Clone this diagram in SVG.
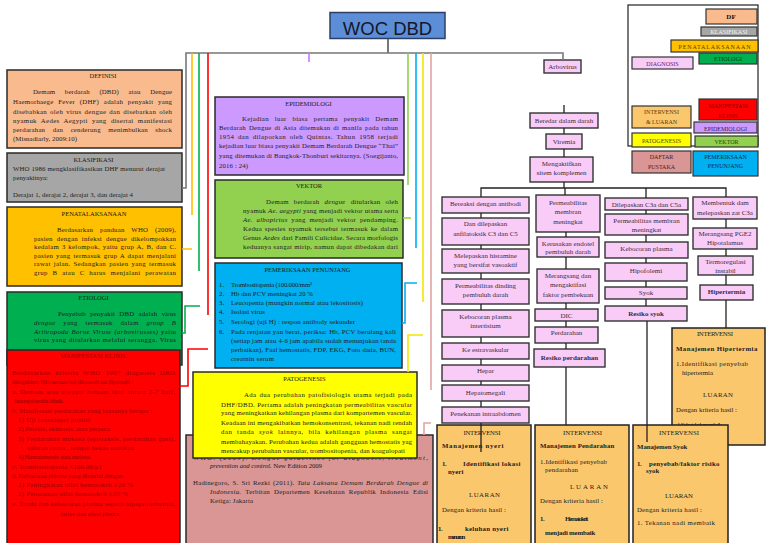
<svg xmlns="http://www.w3.org/2000/svg" width="768" height="543" viewBox="0 0 768 543">
<style>
text{font-family:"Liberation Serif","Times New Roman",serif;font-size:6.8px;fill:#222}
.ti{font-size:6.5px;text-anchor:middle;fill:#1a1a1a}
.c{text-anchor:middle}
.b{font-weight:bold}
.i{font-style:italic}
.bx{stroke:#2a2a2a;stroke-width:1.5}
.pk{fill:#f9cbf7;stroke:#333;stroke-width:1.4}
.pt{font-size:7px;text-anchor:middle;fill:#3b2b3b}
.iv{fill:#fbc76c;stroke:#222;stroke-width:1.5}
.lg{stroke:#333;stroke-width:1.2}
.lt{font-size:6px;text-anchor:middle;fill:#3a3a3a}
.k{fill:none;stroke:#222;stroke-width:1.3}
.iw{font-weight:bold;letter-spacing:-0.3px}
.mk{fill:#9e0000}
</style>
<rect width="768" height="543" fill="#fff"/>

<g id="title">
<rect x="330" y="12.5" width="115" height="26" fill="#5b8ed6" stroke="#2b3f66" stroke-width="1.5"/>
<text x="387.5" y="35" style="font-family:'Liberation Sans',Arial,sans-serif;font-size:18.5px;fill:#16162a;text-anchor:middle">WOC DBD</text>
</g>

<g id="definisi">
<rect class="bx" x="7" y="70" width="175" height="78" fill="#f9ba8e"/>
<text class="ti" x="103" y="77.5">DEFINISI</text>
<text x="33" y="94.2" textLength="139" lengthAdjust="spacing" style="word-spacing:7.8px">Demam berdarah (DBD) atau Dengue</text>
<text x="13" y="104" textLength="159" lengthAdjust="spacing" style="word-spacing:2.8px">Haemorhaege Fever (DHF) adalah penyakit yang</text>
<text x="13" y="113.5" textLength="159" lengthAdjust="spacing" style="word-spacing:1px">disebabkan oleh virus dengue dan disebarkan oleh</text>
<text x="13" y="122.5" textLength="159" lengthAdjust="spacing" style="word-spacing:2.4px">nyamuk Aedes Aegypti yang disertai manifestasi</text>
<text x="13" y="131.5" textLength="159" lengthAdjust="spacing" style="word-spacing:5.6px">perdarahan dan cenderung menimbulkan shock</text>
<text x="13" y="140.8" textLength="64" lengthAdjust="spacing">(Misnadiarly, 2009:10)</text>
</g>

<g id="klasifikasi">
<rect class="bx" x="7" y="153" width="175" height="49" fill="#a6a6a6"/>
<text class="ti" x="93.5" y="161.5">KLASIFIKASI</text>
<text x="13" y="170.8" textLength="152" lengthAdjust="spacing">WHO 1986 mengklasifikasikan DHF menurut derajat</text>
<text x="13" y="179.5" textLength="35" lengthAdjust="spacing">penyakitnya:</text>
<text x="13" y="196.5" textLength="120" lengthAdjust="spacing">Derajat 1, derajat 2, derajat 3, dan derajat 4</text>
</g>

<g id="penatalaksanaan">
<rect class="bx" x="7" y="207" width="175" height="79" fill="#ffc000"/>
<text class="ti" x="94" y="215.5">PENATALAKSANAAN</text>
<text x="57" y="231.8" textLength="119" lengthAdjust="spacing" style="word-spacing:5px">Berdasarkan panduan WHO (2009),</text>
<text x="34" y="240.5" textLength="142" lengthAdjust="spacing" style="word-spacing:2.2px">pasien dengan infeksi dengue dikelompokkan</text>
<text x="34" y="249" textLength="142" lengthAdjust="spacing" style="word-spacing:0.7px">kedalam 3 kelompok, yaitu grup A, B, dan C.</text>
<text x="34" y="257.6" textLength="142" lengthAdjust="spacing" style="word-spacing:0.9px">pasien yang termasuk grup A dapat menjalani</text>
<text x="34" y="266.3" textLength="142" lengthAdjust="spacing" style="word-spacing:1.1px">rawat jalan. Sedangkan pasien yang termasuk</text>
<text x="34" y="275" textLength="142" lengthAdjust="spacing" style="word-spacing:2.7px">grup B atau C harus menjalani perawatan</text>
</g>

<g id="etiologi">
<rect class="bx" x="7" y="292" width="175" height="73" fill="#00b050"/>
<text class="ti" x="93.5" y="300.3">ETIOLOGI</text>
<text x="58" y="315.8" textLength="118" lengthAdjust="spacing" style="word-spacing:2.4px">Penyebab penyakit DBD adalah virus</text>
<text x="34" y="325" textLength="142" lengthAdjust="spacing" style="word-spacing:5.8px"><tspan class="i">dengue</tspan> yang termasuk dalam <tspan class="i">group B</tspan></text>
<text x="34" y="333.5" textLength="142" lengthAdjust="spacing" style="word-spacing:0.8px"><tspan class="i">Arthropoda Borne Viruse (arbovirusses)</tspan> yaitu</text>
<text x="34" y="342" textLength="142" lengthAdjust="spacing">virus yang ditularkan melalui serangga. Virus</text>
</g>

<g id="manifestasi">
<rect class="bx" x="7" y="350" width="173" height="200" fill="#ff0000"/>
<text class="ti mk" x="93" y="357.5">MANIFESTASI KLINIS</text>
<text class="mk" x="12" y="374.8" textLength="163" lengthAdjust="spacing" style="word-spacing:2.7px">Berdasarkan kriteria WHO  1997 diagnosis DBD</text>
<text class="mk" x="12" y="384.2" textLength="121" lengthAdjust="spacing">ditegakkan bila semua hal dibawah ini dipenuhi :</text>
<text class="mk" x="12" y="393.5" textLength="163" lengthAdjust="spacing" style="word-spacing:0.6px">a.  Demam atau riwayat demam akut antara 2-7 hari,</text>
<text class="mk" x="14" y="403.2" textLength="49" lengthAdjust="spacing">biasanya bersifat bifasik</text>
<text class="mk" x="12" y="412.5" textLength="140" lengthAdjust="spacing">b.  Manifestasi perdarahan yang biasanya berupa :</text>
<text class="mk" x="18" y="421.8" textLength="72" lengthAdjust="spacing">1)  Uji tourniquet positif</text>
<text class="mk" x="18" y="430.8" textLength="92" lengthAdjust="spacing">2)  Petekie, ekimosis, atau purpura</text>
<text class="mk" x="18" y="440.8" textLength="157" lengthAdjust="spacing">3) Perdarahan mukosa (epistaksis, perdarahan gusi),</text>
<text class="mk" x="27" y="449.8" textLength="107" lengthAdjust="spacing">saluran cerna , tempat bekas suntikan</text>
<text class="mk" x="18" y="459.2" textLength="72" lengthAdjust="spacing">4) Hematemesis atau melena</text>
<text class="mk" x="12" y="468.5" textLength="90" lengthAdjust="spacing">c.  Trombositopenia &lt;100.00/μ1</text>
<text class="mk" x="12" y="478.2" textLength="111" lengthAdjust="spacing">d.  Kebocoran plasma yang ditandai dengan</text>
<text class="mk" x="18" y="486.8" textLength="115" lengthAdjust="spacing">1)  Peningkatan nilai hematokrit ≥20 %</text>
<text class="mk" x="18" y="495.8" textLength="110" lengthAdjust="spacing">2)  Penurunan nilai hematokrit ≥20 %</text>
<text class="mk" x="12" y="505.8" textLength="163" lengthAdjust="spacing">e.   Tanda dan kebocoran plasma seperti hipoproteinemia,</text>
<text class="mk" x="60" y="515.8" textLength="59" lengthAdjust="spacing">asites dan efusi pleura</text>
</g>

<g id="epidemiologi">
<rect class="bx" x="215" y="97" width="189" height="78" fill="#cc99ff"/>
<text class="ti" x="308.5" y="105.5">EPIDEMIOLOGI</text>
<text x="242" y="120.8" textLength="156" lengthAdjust="spacing" style="word-spacing:4px">Kejadian luar biasa pertama penyakit Demam</text>
<text x="219" y="129.8" textLength="179" lengthAdjust="spacing" style="word-spacing:1px">Berdarah Dengue di Asia ditemukan di manila pada tahun</text>
<text x="219" y="138.5" textLength="179" lengthAdjust="spacing" style="word-spacing:1.5px">1954 dan dilaporkan oleh Quintas. Tahun 1958 terjadi</text>
<text x="219" y="148.2" textLength="179" lengthAdjust="spacing">kejadian luar biasa  penyakit Demam Berdarah Dengue “Thai”</text>
<text x="219" y="158.2" textLength="179" lengthAdjust="spacing">yang ditemukan di Bangkok-Thonburi sekitarnya. (Soegijanto,</text>
<text x="219" y="167.5" textLength="29" lengthAdjust="spacing">2016 : 24)</text>
</g>

<g id="vektor">
<rect class="bx" x="215" y="180" width="188" height="78" fill="#92d050"/>
<text class="ti" x="309" y="187.5">VEKTOR</text>
<text x="266" y="203.5" textLength="132" lengthAdjust="spacing" style="word-spacing:3.2px">Demam berdarah <tspan class="i">dengue</tspan> ditularkan oleh</text>
<text x="243" y="212.5" textLength="155" lengthAdjust="spacing">nyamuk <tspan class="i">Ae. aegypti</tspan> yang menjadi vektor utama serta</text>
<text x="243" y="221.5" textLength="155" lengthAdjust="spacing" style="word-spacing:1.8px"><tspan class="i">Ae. albopictus</tspan> yang menjadi vektor pendamping.</text>
<text x="243" y="231" textLength="155" lengthAdjust="spacing" style="word-spacing:1px">Kedua spesies nyamuk tersebut termasuk ke dalam</text>
<text x="243" y="240" textLength="155" lengthAdjust="spacing">Genus <tspan class="i">Aedes</tspan> dari Famili Culicidae. Secara morfologis</text>
<text x="243" y="249" textLength="155" lengthAdjust="spacing">keduanya sangat mirip, namun dapat dibedakan dari</text>
</g>

<g id="pemeriksaan">
<rect class="bx" x="215" y="263" width="187" height="105" fill="#00b0f0"/>
<text class="ti" x="307.5" y="271.5">PEMERIKSAAN PENUNJANG</text>
<text x="219" y="286.8">1.</text><text x="231" y="286.8" textLength="81" lengthAdjust="spacing">Trombositopenia (100.000/mm³</text>
<text x="219" y="295.8">2.</text><text x="231" y="295.8" textLength="82" lengthAdjust="spacing">Hb dan PCV meningkat 20 %</text>
<text x="219" y="305.2">3.</text><text x="231" y="305.2" textLength="132" lengthAdjust="spacing">Leucopenia (mungkin normal atau lekositosis)</text>
<text x="219" y="314.2">4.</text><text x="231" y="314.2" textLength="34" lengthAdjust="spacing">Isolasi virus</text>
<text x="219" y="324.2">5.</text><text x="231" y="324.2" textLength="124" lengthAdjust="spacing">Serologi (uji H) : respon antibody sekunder</text>
<text x="219" y="333.5">6.</text><text x="231" y="333.5" textLength="165" lengthAdjust="spacing">Pada renjatan yan berat, periksa: Hb, PCV berulang kali</text>
<text x="231" y="342.5" textLength="165" lengthAdjust="spacing">(setiap jam atau 4-6 jam apabila sudah menunjukan tanda</text>
<text x="231" y="351.5" textLength="165" lengthAdjust="spacing">perbaikan), Faal hemostatis, FDP, EKG, Foto dada, BUN,</text>
<text x="231" y="360.8" textLength="43" lengthAdjust="spacing">creatnin serum</text>
</g>

<g id="daftar-pustaka">
<rect class="bx" x="186" y="435" width="247" height="115" fill="#d99694"/>
<text x="193" y="459.5" textLength="235" lengthAdjust="spacing">WHO. (2009). <tspan class="i">Dengue guidelines for diagnosis, treatment,</tspan></text>
<text x="210" y="467.5" textLength="112" lengthAdjust="spacing"><tspan class="i">prevention and control.</tspan> New Edition 2009</text>
<text x="193" y="484.5" textLength="235" lengthAdjust="spacing" style="word-spacing:1px">Hadinegoro, S. Sri Rezki (2011). <tspan class="i">Tata Laksana Demam Berdarah Dengue di</tspan></text>
<text x="210" y="494" textLength="218" lengthAdjust="spacing" style="word-spacing:2px"><tspan class="i">Indonesia.</tspan> Terbitan Departemen Kesehatan Republik Indonesia Edisi</text>
<text x="210" y="503" textLength="43" lengthAdjust="spacing">Ketiga: Jakarta</text>
</g>

<g id="patogenesis">
<rect class="bx" x="193" y="372" width="224" height="86" fill="#ffff00"/>
<text class="ti" x="304.5" y="380.5">PATOGENESIS</text>
<text x="244" y="396.8" textLength="168" lengthAdjust="spacing" style="word-spacing:1px">Ada dua perubahan patofisiologis utama terjadi pada</text>
<text x="221" y="406.8" textLength="191" lengthAdjust="spacing">DHF/DBD. Pertama adalah peningkatan permeabilitas vascular</text>
<text x="221" y="415.2" textLength="191" lengthAdjust="spacing">yang meningkatkan kehilangan plasma dari kompartemen vascular.</text>
<text x="221" y="425.2" textLength="191" lengthAdjust="spacing">Keadaan ini mengakibatkan hemokonsentrasi,  tekanan nadi rendah</text>
<text x="221" y="434.2" textLength="191" lengthAdjust="spacing" style="word-spacing:2.5px">dan tanda <tspan class="i">syok</tspan> lainnya, bila kehilangan plasma sangat</text>
<text x="221" y="443.5" textLength="191" lengthAdjust="spacing">membahayakan. Perubahan kedua adalah gangguan hemostatis yag</text>
<text x="221" y="452.5" textLength="184" lengthAdjust="spacing">mencakup perubahan vascular, trombositopenia, dan koagulopati</text>
</g>

<g id="legend">
<rect x="628" y="5" width="130" height="141" fill="#fff" stroke="#222" stroke-width="1.2"/>
<rect class="lg" x="706" y="9" width="51" height="15" fill="#f9ba8e"/><text class="lt b" x="731" y="19" style="font-size:7px;fill:#111">DF</text>
<rect class="lg" x="701" y="27" width="56" height="9" fill="#a6a6a6"/><text class="lt" x="729" y="34" style="fill:#f4f4f4">KLASIFIKASI</text>
<rect class="lg" x="671" y="40" width="87" height="12" fill="#ffc000"/><text class="lt" x="714.5" y="48.5" textLength="72" lengthAdjust="spacing" style="fill:#5b3a00">PENATALAKSANAAN</text>
<rect class="lg" x="632" y="57" width="61" height="12" fill="#f9cbf7"/><text class="lt" x="662.5" y="65.5" style="fill:#5a2a5a">DIAGNOSIS</text>
<rect class="lg" x="699" y="53" width="58" height="11" fill="#00b050"/><text class="lt" x="728" y="61" style="fill:#063a14">ETIOLOGI</text>
<rect class="lg" x="699" y="99" width="58" height="21" fill="#ff0000"/><text class="lt" x="728" y="107.5" style="fill:#8b0000">MANIFESTASI</text><text class="lt" x="728" y="117.5" style="fill:#8b0000">KLINIS</text>
<rect class="lg" x="632" y="106" width="59" height="22" fill="#fbc76c"/><text class="lt" x="661.5" y="114" style="fill:#5a3a10">INTERVENSI</text><text class="lt" x="661.5" y="124" style="fill:#5a3a10">&amp; LUARAN</text>
<rect class="lg" x="694" y="122" width="63" height="11" fill="#cc99ff"/><text class="lt" x="725.5" y="130.5" style="fill:#3a1a5a">EPIDEMIOLOGI</text>
<rect class="lg" x="632" y="133" width="59" height="14" fill="#ffff00"/><text class="lt" x="661.5" y="142.5" style="fill:#4a4a00">PATOGENESIS</text>
<rect class="lg" x="695" y="136" width="63" height="11" fill="#92d050"/><text class="lt" x="726.5" y="144" style="fill:#2a4a00">VEKTOR</text>
<rect class="lg" x="632" y="151" width="59" height="22" fill="#d99694"/><text class="lt" x="661.5" y="159" style="fill:#4a2020">DAFTAR</text><text class="lt" x="661.5" y="168.5" style="fill:#4a2020">PUSTAKA</text>
<rect class="lg" x="693" y="151" width="65" height="25" fill="#00b0f0"/><text class="lt" x="725.5" y="159" style="fill:#0a2a5a">PEMERIKSAAN</text><text class="lt" x="725.5" y="168" style="fill:#0a2a5a">PENUNJANG</text>
</g>

<g id="n-arbovirus"><rect class="pk" x="544" y="60" width="37" height="13"/><text class="pt" x="562.5" y="69">Arbovirus</text></g>
<g id="n-beredar"><rect class="pk" x="530" y="113" width="68" height="15"/><text class="pt" x="564" y="122.8">Beredar dalam darah</text></g>
<g id="n-viremia"><rect class="pk" x="546" y="134" width="36" height="15"/><text class="pt" x="564" y="143.5">Viremia</text></g>
<g id="n-komplemen"><rect class="pk" x="530" y="157" width="63" height="25"/><text class="pt" x="561.5" y="166">Mengaktifkan</text><text class="pt" x="561.5" y="175">sitem komplemen</text></g>

<g id="n-bereaksi"><rect class="pk" x="442" y="197" width="87" height="16"/><text class="pt" x="485.5" y="205.5">Bereaksi dengan antibodi</text></g>
<g id="n-anfilatoksik"><rect class="pk" x="442" y="218" width="87" height="27"/><text class="pt" x="485.5" y="225.8">Dan dilepaskan</text><text class="pt" x="485.5" y="235.5">anfilatoksik C3 dan C5</text></g>
<g id="n-histamine"><rect class="pk" x="442" y="249" width="87" height="24"/><text class="pt" x="485.5" y="257.5">Melepaskan histamine</text><text class="pt" x="485.5" y="266.5">yang bersifat vasoaktif</text></g>
<g id="n-permeabilitas-dinding"><rect class="pk" x="442" y="279" width="87" height="25"/><text class="pt" x="485.5" y="287.5">Permeabilitas dinding</text><text class="pt" x="485.5" y="296.5">pembuluh darah</text></g>
<g id="n-kebocoran-intertisium"><rect class="pk" x="442" y="310" width="87" height="27"/><text class="pt" x="485.5" y="318.5">Kebocoran plasma</text><text class="pt" x="485.5" y="327.5">intertisium</text></g>
<g id="n-estravaskular"><rect class="pk" x="442" y="343" width="87" height="16"/><text class="pt" x="485.5" y="351.5">Ke estravaskular</text></g>
<g id="n-hepar"><rect class="pk" x="442" y="365" width="87" height="16"/><text class="pt" x="485.5" y="372.5">Hepar</text></g>
<g id="n-hepatomegali"><rect class="pk" x="442" y="385" width="87" height="16"/><text class="pt" x="485.5" y="394.5">Hepatomegali</text></g>
<g id="n-penekanan"><rect class="pk" x="442" y="407" width="87" height="16"/><text class="pt" x="485.5" y="415.5">Penekanan intraabdomen</text></g>

<g id="n-permeabilitas-membran"><rect class="pk" x="536" y="195" width="64" height="37"/><text class="pt" x="568" y="204.5">Permeabilitas</text><text class="pt" x="568" y="214">membran</text><text class="pt" x="568" y="223.5">meningkat</text></g>
<g id="n-endotel"><rect class="pk" x="537" y="237" width="62" height="20"/><text class="pt" x="568" y="245.5">Kerusakan endotel</text><text class="pt" x="568" y="254">pembuluh darah</text></g>
<g id="n-pembekuan"><rect class="pk" x="537" y="269" width="62" height="34"/><text class="pt" x="568" y="277.5">Merangsang dan</text><text class="pt" x="568" y="287">mengaktifasi</text><text class="pt" x="568" y="296.5">faktor pembekuan</text></g>
<g id="n-dic"><rect class="pk" x="535" y="309" width="63" height="12"/><text class="pt" x="566.5" y="317.5">DIC</text></g>
<g id="n-perdarahan"><rect class="pk" x="535" y="327" width="63" height="16"/><text class="pt" x="566.5" y="334.5">Perdarahan</text></g>
<g id="n-resiko-perdarahan"><rect class="pk" x="534" y="349" width="71" height="18"/><text class="pt b" x="569.5" y="359.5">Resiko perdarahan</text></g>

<g id="n-c3a-c5a"><rect class="pk" x="605" y="198" width="83" height="12"/><text class="pt" x="646.5" y="206.5">Dilepaskan C3a dan C5a</text></g>
<g id="n-permeabilitas-2"><rect class="pk" x="605" y="214" width="83" height="21"/><text class="pt" x="646.5" y="223">Permeabilitas membran</text><text class="pt" x="646.5" y="232">meningkat</text></g>
<g id="n-kebocoran"><rect class="pk" x="605" y="242" width="83" height="16"/><text class="pt" x="646.5" y="250.5">Kebocoran plasma</text></g>
<g id="n-hipofolemi"><rect class="pk" x="605" y="263" width="82" height="18"/><text class="pt" x="646" y="272.5">Hipofolemi</text></g>
<g id="n-syok"><rect class="pk" x="605" y="287" width="82" height="12"/><text class="pt" x="646" y="294.8">Syok</text></g>
<g id="n-resiko-syok"><rect class="pk" x="605" y="306" width="82" height="15"/><text class="pt b" x="646" y="315.5">Resiko syok</text></g>

<g id="n-c3a"><rect class="pk" x="693" y="197" width="64" height="22"/><text class="pt" x="725" y="205">Membentuk dam</text><text class="pt" x="725" y="214.5">melepaskan zat C3a</text></g>
<g id="n-pge2"><rect class="pk" x="693" y="228" width="64" height="21"/><text class="pt" x="725" y="235.8">Merangsang PGE2</text><text class="pt" x="725" y="245.3">Hipotalamus</text></g>
<g id="n-termoregulasi"><rect class="pk" x="698" y="256" width="55" height="19"/><text class="pt" x="725.5" y="263.5">Termoregulasi</text><text class="pt" x="725.5" y="273">instabil</text></g>
<g id="n-hipertermia"><rect class="pk" x="700" y="285" width="53" height="15"/><text class="pt b" x="726.5" y="294">Hipertermia</text></g>

<g id="int-hipertermia">
<rect class="iv" x="672" y="328" width="93" height="117"/>
<text x="715" y="335.5" class="c" textLength="36" lengthAdjust="spacing">INTERVENSI</text>
<text x="676" y="350.5" class="iw" textLength="81" lengthAdjust="spacing">Manajemen Hipertermia</text>
<text x="676" y="365.5" textLength="72" lengthAdjust="spacing">1.Identifikasi penyebab</text>
<text x="682" y="374.5" textLength="31" lengthAdjust="spacing">hipertermia</text>
<text x="718" y="396.5" class="c" textLength="30" lengthAdjust="spacing">LUARAN</text>
<text x="676" y="411.5" textLength="61" lengthAdjust="spacing">Dengan kriteria hasil :</text>
<text x="677" y="427" textLength="45" lengthAdjust="spacing">1. Suhu tubuh membaik</text>
</g>

<g id="int-nyeri">
<rect class="iv" x="437" y="425" width="94" height="125"/>
<text x="482" y="434.5" class="c" textLength="37" lengthAdjust="spacing">INTERVENSI</text>
<text x="442" y="447.5" class="iw" textLength="61" lengthAdjust="spacing">Manajemen nyeri</text>
<text x="442" y="465.5" class="iw">1.</text><text x="463" y="465.5" class="iw" textLength="57" lengthAdjust="spacing">Identifikasi lokasi</text>
<text x="448" y="473.5" class="iw" textLength="15" lengthAdjust="spacing">nyeri</text>
<text x="484.5" y="496.5" class="c" textLength="31" lengthAdjust="spacing">LUARAN</text>
<text x="442" y="511.5" textLength="64" lengthAdjust="spacing">Dengan kriteria hasil :</text>
<text x="438" y="530.5" class="iw">1.</text><text x="465" y="530.5" class="iw" textLength="43" lengthAdjust="spacing">keluhan nyeri</text>
<text x="448" y="539" class="iw" textLength="17" lengthAdjust="spacing">menurun</text>
</g>

<g id="int-pendarahan">
<rect class="iv" x="535" y="425" width="94" height="125"/>
<text x="582.5" y="434.5" class="c" textLength="39" lengthAdjust="spacing">INTERVENSI</text>
<text x="540" y="448" class="iw" textLength="74" lengthAdjust="spacing">Manajemen Pendarahan</text>
<text x="540" y="463.5" textLength="67" lengthAdjust="spacing">1.Identifikasi penyebab</text>
<text x="545" y="472" textLength="33" lengthAdjust="spacing">pendarahan</text>
<text x="589" y="488.5" class="c" textLength="38" lengthAdjust="spacing">LUARAN</text>
<text x="540" y="502.5" textLength="63" lengthAdjust="spacing">Dengan kriteria hasil :</text>
<text x="540" y="521" class="iw">1.</text><text x="565" y="521" class="iw" textLength="23" lengthAdjust="spacing">Hematokrit</text>
<text x="545" y="534.5" class="iw" textLength="50" lengthAdjust="spacing">menjadi  membaik</text>
</g>

<g id="int-syok">
<rect class="iv" x="633" y="425" width="95" height="125"/>
<text x="679" y="434.5" class="c" textLength="40" lengthAdjust="spacing">INTERVENSI</text>
<text x="637" y="448.5" class="iw" textLength="50" lengthAdjust="spacing">Manajemen Syok</text>
<text x="637" y="465.5" class="iw">1.</text><text x="649" y="465.5" class="iw" textLength="70" lengthAdjust="spacing">penyebab/faktor risiko</text>
<text x="646" y="473" class="iw" textLength="13" lengthAdjust="spacing">syok</text>
<text x="679" y="497.5" class="c" textLength="28" lengthAdjust="spacing">LUARAN</text>
<text x="637" y="511.5" textLength="65" lengthAdjust="spacing">Dengan kriteria hasil :</text>
<text x="637" y="525" textLength="78" lengthAdjust="spacing">1. Tekanan nadi  membaik</text>
</g>

<g id="connectors" fill="none" stroke-width="1.6">
<path d="M388 38.5V53" stroke="#555"/>
<path d="M182 188H186V53H563V60" stroke="#777"/>
<path d="M192 53V215M182 249H192" stroke="#ffc000"/>
<path d="M199 53V271M200 306H185V333H182" stroke="#00b050"/>
<path d="M208 53V315M208 349H188V386H180" stroke="#ff0000"/>
<path d="M309 53V62" stroke="#cc77ff"/>
<path d="M408 53V185M403 218H411" stroke="#92d050"/>
<path d="M416 53V248M417 283H405V323H402" stroke="#00b0f0"/>
<path d="M423 53V302M423 335H408V372" stroke="#f2e600"/>
<path d="M431 53V390M431 423H424V435" stroke="#e3a3a3"/>
<g class="k">
<path d="M564 105V113M564 128V134M564 149V157M564 182V188"/>
<path d="M481 197V188H726V197M646 188V198M565 188V195"/>
<path d="M481 213V218M481 245V249M481 273V279M481 304V310M481 337V343M481 359V365M481 381V385M481 401V407M481 423V452"/>
<path d="M566 232V237M566 257V269M566 303V309M566 321V327M566 343V349M566 367V425"/>
<path d="M646 210V214M646 235V242M646 258V263M646 281V287M646 299V306M647 321V442"/>
<path d="M726 219V228M726 249V256M726 275V285M726 300V328"/>
</g>
</g>
</svg>
